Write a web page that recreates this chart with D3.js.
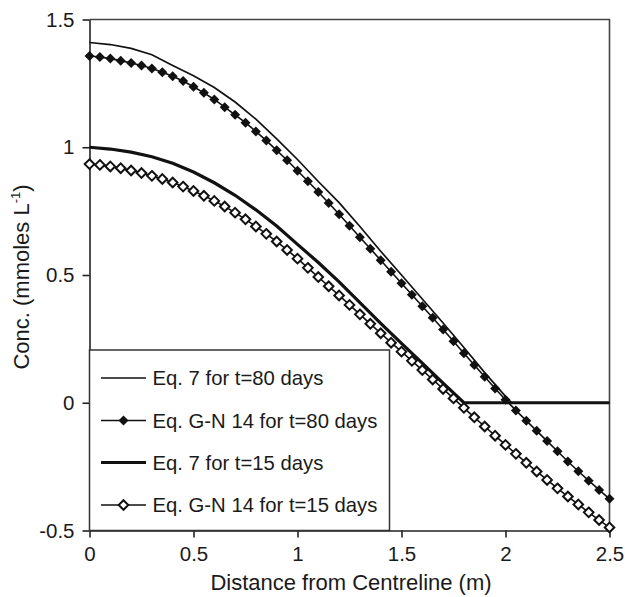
<!DOCTYPE html>
<html><head><meta charset="utf-8">
<script src="https://cdn.jsdelivr.net/npm/d3@7"></script>
<style>body{margin:0;background:#fff;} svg{display:block;font-family:Arial,"Liberation Sans",sans-serif;}</style>
</head><body><svg id="c" width="625" height="597"></svg>
<script>
// ---- data ----
const gnX = [0,0.05,0.1,0.15,0.2,0.25,0.3,0.35,0.4,0.45,0.5,0.55,0.6,0.65,0.7,0.75,0.8,0.85,0.9,0.95,
  1.0,1.05,1.1,1.15,1.2,1.25,1.3,1.35,1.4,1.45,1.5,1.55,1.6,1.65,1.7,1.75,1.8,1.85,1.9,1.95,
  2.0,2.05,2.1,2.15,2.2,2.25,2.3,2.35,2.4,2.45,2.5];
const gn80 = [1.357,1.353,1.347,1.339,1.330,1.320,1.308,1.294,1.278,1.259,1.237,1.213,1.187,1.157,1.127,1.096,1.062,1.026,0.988,0.949,
  0.908,0.867,0.825,0.782,0.738,0.693,0.648,0.603,0.558,0.513,0.468,0.423,0.378,0.333,0.287,0.241,0.194,0.148,0.102,0.056,
  0.012,-0.030,-0.070,-0.110,-0.150,-0.190,-0.230,-0.268,-0.305,-0.341,-0.376];
const gn15 = [0.934,0.931,0.925,0.918,0.909,0.899,0.888,0.876,0.862,0.846,0.829,0.810,0.790,0.768,0.744,0.718,0.690,0.661,0.631,0.598,
  0.564,0.528,0.492,0.456,0.420,0.383,0.346,0.309,0.272,0.235,0.200,0.164,0.128,0.091,0.054,0.017,-0.020,-0.057,-0.093,-0.129,
  -0.165,-0.200,-0.235,-0.269,-0.302,-0.335,-0.367,-0.398,-0.429,-0.459,-0.488];
const eq7X80 = [0,0.1,0.2,0.3,0.4,0.5,0.6,0.7,0.8,0.9,1.0,1.1,1.2,1.3,1.4,1.5,1.6,1.7,1.8,1.9,2.0,2.03,2.1,2.2,2.3,2.4,2.5];
const eq780 = [1.410,1.402,1.387,1.362,1.320,1.280,1.234,1.177,1.110,1.033,0.952,0.866,0.783,0.690,0.593,0.500,0.406,0.312,0.216,0.118,0.025,0,0,0,0,0,0];
const eq7X15 = [0,0.1,0.2,0.3,0.4,0.5,0.6,0.7,0.8,0.9,1.0,1.1,1.2,1.3,1.4,1.5,1.6,1.7,1.8,1.9,2.0,2.1,2.2,2.3,2.4,2.5];
const eq715 = [1.000,0.993,0.981,0.963,0.937,0.903,0.861,0.812,0.755,0.692,0.620,0.549,0.473,0.392,0.311,0.232,0.155,0.077,0,0,0,0,0,0,0,0];
const xTicks = [0,0.5,1,1.5,2,2.5];
const yTicks = [-0.5,0,0.5,1,1.5];
const legendLabels = ["Eq. 7 for t=80 days","Eq. G-N 14 for t=80 days","Eq. 7 for t=15 days","Eq. G-N 14 for t=15 days"];
const xTitle = "Distance from Centreline (m)";

// ---- chart ----
const svg = d3.select("#c");
const x = d3.scaleLinear([0,2.5],[89.5,609.5]);
const y = d3.scaleLinear([-0.5,1.5],[530.5,19.5]);

// frame top/right
svg.append("path").attr("d",`M${x(0)},${y(1.5)}H${x(2.5)}V${y(-0.5)}`)
  .attr("fill","none").attr("stroke","#444").attr("stroke-width",1.6);

const fmt = d => String(d);
const gx = svg.append("g").attr("transform",`translate(0,${y(-0.5)})`)
  .call(d3.axisBottom(x).tickValues(xTicks).tickFormat(fmt).tickSize(7).tickSizeOuter(0).tickPadding(9));
const gy = svg.append("g").attr("transform",`translate(${x(0)},0)`)
  .call(d3.axisLeft(y).tickValues(yTicks).tickFormat(fmt).tickSize(7).tickSizeOuter(0).tickPadding(8));
[gx,gy].forEach(g=>{
  g.selectAll("path,line").attr("stroke","#222").attr("stroke-width",1.6);
  g.selectAll("text").attr("font-size",20.5).attr("fill","#1a1a1a").attr("font-family",'Arial,"Liberation Sans",sans-serif');
});

const line = d3.line().x(d=>x(d[0])).y(d=>y(d[1]));
const zip = (a,b)=>a.map((v,i)=>[v,b[i]]);
const diamond = r => `M0,${-r}L${r},0L0,${r}L${-r},0Z`;

const plot = svg.append("g");
plot.append("path").attr("d",line(zip(eq7X80,eq780))).attr("fill","none").attr("stroke","#111").attr("stroke-width",1.7);
plot.append("path").attr("d",line(zip(gnX,gn80))).attr("fill","none").attr("stroke","#111").attr("stroke-width",1.6);
plot.selectAll(".f").data(zip(gnX,gn80)).join("path")
  .attr("transform",d=>`translate(${x(d[0])},${y(d[1])})`).attr("d",diamond(5)).attr("fill","#111");
plot.append("path").attr("d",line(zip(eq7X15,eq715))).attr("fill","none").attr("stroke","#111").attr("stroke-width",3.2);
plot.append("path").attr("d",line(zip(gnX,gn15))).attr("fill","none").attr("stroke","#111").attr("stroke-width",1.6);
plot.selectAll(".o").data(zip(gnX,gn15)).join("path")
  .attr("transform",d=>`translate(${x(d[0])},${y(d[1])})`).attr("d",diamond(4.8))
  .attr("fill","#fff").attr("stroke","#111").attr("stroke-width",2);

// legend
const lg = svg.append("g");
lg.append("rect").attr("x",x(0)).attr("y",350).attr("width",300).attr("height",y(-0.5)-350)
  .attr("fill","#fff").attr("stroke","#333").attr("stroke-width",1.5);
const rowsY = [378,420.5,462.5,505];
const widths = [1.7,1.6,3.2,1.6];
legendLabels.forEach((t,i)=>{
  const yy = rowsY[i];
  lg.append("line").attr("x1",101).attr("x2",146).attr("y1",yy).attr("y2",yy)
    .attr("stroke","#111").attr("stroke-width",widths[i]);
  if(i===1) lg.append("path").attr("transform",`translate(123.5,${yy})`).attr("d",diamond(5)).attr("fill","#111");
  if(i===3) lg.append("path").attr("transform",`translate(123.5,${yy})`).attr("d",diamond(4.8))
    .attr("fill","#fff").attr("stroke","#111").attr("stroke-width",2);
  lg.append("text").attr("x",152.5).attr("y",yy+7.3).attr("font-size",20.3).attr("fill","#1a1a1a").text(t);
});

// axis titles
svg.append("text").attr("x",351).attr("y",590).attr("text-anchor","middle").attr("font-size",22).attr("fill","#1a1a1a").text(xTitle);
const yt = svg.append("text").attr("transform","translate(29,277) rotate(-90)").attr("text-anchor","middle")
  .attr("font-size",22).attr("fill","#1a1a1a");
yt.append("tspan").text("Conc. (mmoles L");
yt.append("tspan").attr("font-size",13).attr("dy",-9).text("-1");
yt.append("tspan").attr("dy",9).text(")");
</script></body></html>
